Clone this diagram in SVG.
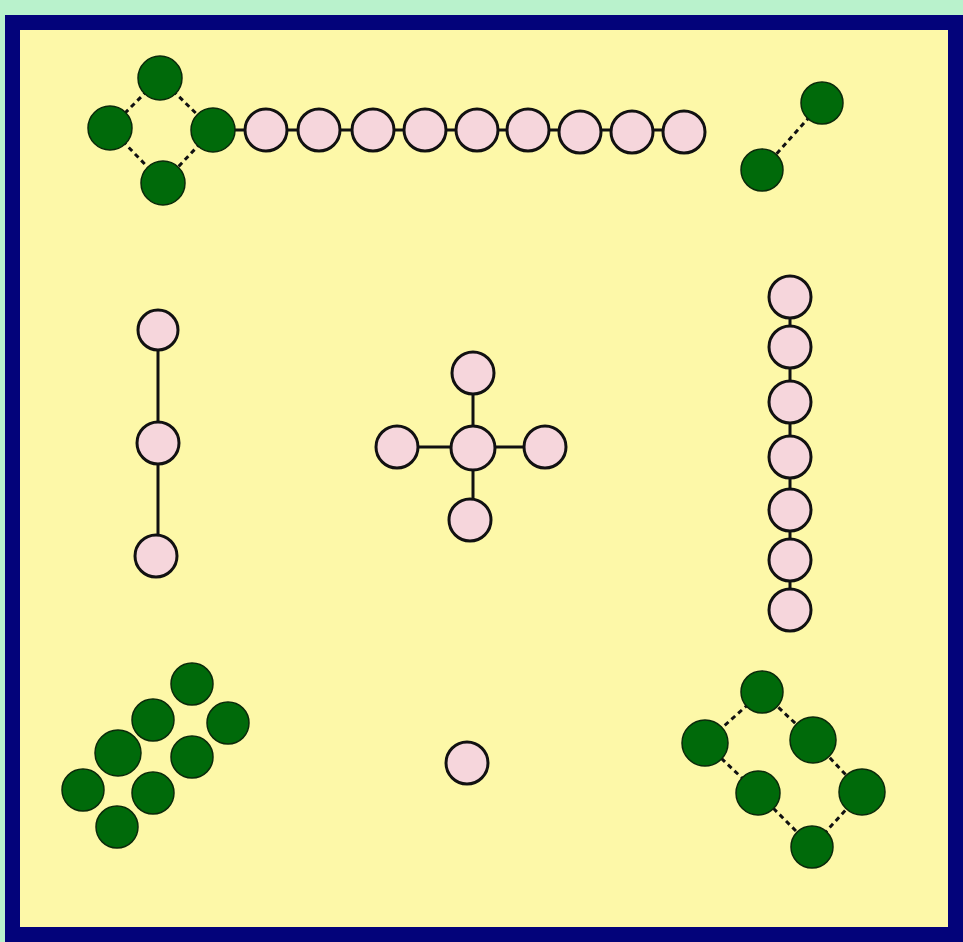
<svg xmlns="http://www.w3.org/2000/svg" width="963" height="942" viewBox="0 0 963 942">
<style>
.p{fill:#f6d6dc;stroke:#111;stroke-width:3}
.g{fill:#006a0a;stroke:#0a2a0a;stroke-width:1.5}
.e{stroke:#111;stroke-width:3;fill:none}
.d{stroke:#111;stroke-width:3;fill:none;stroke-dasharray:5 4}
</style>
<rect x="0" y="0" width="963" height="942" fill="#b9f2cc"/>
<rect x="12.5" y="22.5" width="943" height="912" fill="#fdf8a8" stroke="#03037a" stroke-width="15"/>
<g id="connectors">
<path class="d" d="M160 78L110 128M160 78L213 130M110 128L163 183M213 130L163 183"/>
<path class="e" d="M213 130H685"/>
<path class="d" d="M822 103L762 170"/>
<path class="e" d="M158 330V556"/>
<path class="e" d="M473 373V520M397 447H545"/>
<path class="e" d="M790 297V610"/>
<path class="d" d="M762 692L705 743L758 793L812 847L862 792L813 740L762 692"/>
</g>
<g id="ring-top-left">
<circle class="g" cx="160" cy="78" r="22"/><circle class="g" cx="110" cy="128" r="22"/><circle class="g" cx="213" cy="130" r="22"/><circle class="g" cx="163" cy="183" r="22"/>
</g>
<g id="chain-top">
<circle class="p" cx="266" cy="130" r="21"/><circle class="p" cx="319" cy="130" r="21"/><circle class="p" cx="373" cy="130" r="21"/><circle class="p" cx="425" cy="130" r="21"/><circle class="p" cx="477" cy="130" r="21"/><circle class="p" cx="528" cy="130" r="21"/><circle class="p" cx="580" cy="132" r="21"/><circle class="p" cx="632" cy="132" r="21"/><circle class="p" cx="684" cy="132" r="21"/>
</g>
<g id="pair-top-right">
<circle class="g" cx="822" cy="103" r="21"/><circle class="g" cx="762" cy="170" r="21"/>
</g>
<g id="chain-left">
<circle class="p" cx="158" cy="330" r="20"/><circle class="p" cx="158" cy="443" r="21"/><circle class="p" cx="156" cy="556" r="21"/>
</g>
<g id="star-center">
<circle class="p" cx="473" cy="448" r="22"/><circle class="p" cx="473" cy="373" r="21"/><circle class="p" cx="397" cy="447" r="21"/><circle class="p" cx="545" cy="447" r="21"/><circle class="p" cx="470" cy="520" r="21"/>
</g>
<g id="chain-right">
<circle class="p" cx="790" cy="297" r="21"/><circle class="p" cx="790" cy="347" r="21"/><circle class="p" cx="790" cy="402" r="21"/><circle class="p" cx="790" cy="457" r="21"/><circle class="p" cx="790" cy="510" r="21"/><circle class="p" cx="790" cy="560" r="21"/><circle class="p" cx="790" cy="610" r="21"/>
</g>
<g id="cluster-bottom-left">
<circle class="g" cx="192" cy="684" r="21"/><circle class="g" cx="153" cy="720" r="21"/><circle class="g" cx="228" cy="723" r="21"/><circle class="g" cx="118" cy="753" r="23"/><circle class="g" cx="192" cy="757" r="21"/><circle class="g" cx="83" cy="790" r="21"/><circle class="g" cx="153" cy="793" r="21"/><circle class="g" cx="117" cy="827" r="21"/>
</g>
<g id="single-bottom">
<circle class="p" cx="467" cy="763" r="21"/>
</g>
<g id="ring-bottom-right">
<circle class="g" cx="762" cy="692" r="21"/><circle class="g" cx="705" cy="743" r="23"/><circle class="g" cx="813" cy="740" r="23"/><circle class="g" cx="758" cy="793" r="22"/><circle class="g" cx="862" cy="792" r="23"/><circle class="g" cx="812" cy="847" r="21"/>
</g>
</svg>
